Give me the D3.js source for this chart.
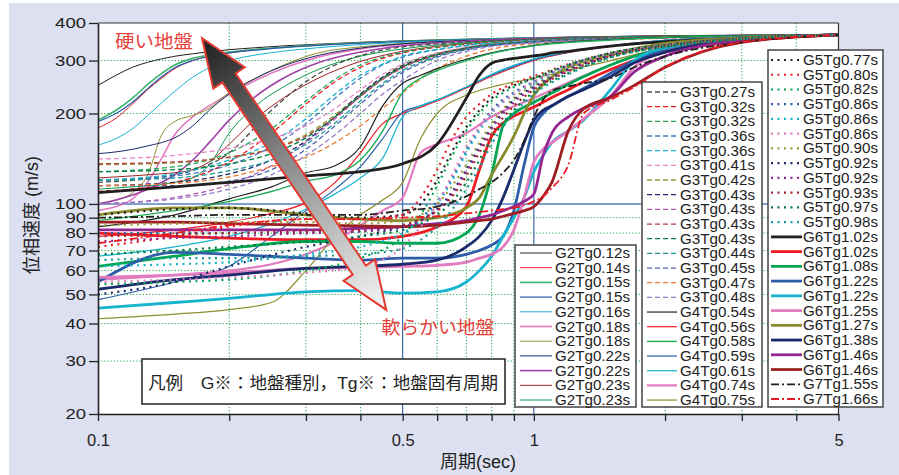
<!DOCTYPE html>
<html>
<head>
<meta charset="utf-8">
<script src="https://cdn.jsdelivr.net/npm/d3@7"></script>
<style>
  body { margin: 0; background: #fff; }
  svg { display: block; }
  text { font-family: "Liberation Sans", Arial, "Noto Sans CJK JP", sans-serif; }
</style>
</head>
<body>
<svg id="chart" width="899" height="475"></svg>
<script>
// ---- axis ticks ----
const xTicks = [0.1, 0.2, 0.3, 0.4, 0.5, 0.6, 0.7, 0.8, 0.9, 1, 2, 3, 4, 5];
const xTickLabels = [0.1, 0.5, 1, 5];
const yTicks = [20, 30, 40, 50, 60, 70, 80, 90, 100, 200, 300, 400];
const xGridDotted = [0.2, 0.3, 0.4, 0.6, 0.7, 0.8, 0.9, 2, 3, 4];
const xGridSolid = [0.5, 1];
const yGridDotted = [30, 40, 50, 60, 70, 80, 90, 200, 300];
const yGridSolid = [100];

// ---- G2 : phase velocity (m/s) at each period (s) ----
const g2Labels = ["G2Tg0.12s","G2Tg0.14s","G2Tg0.15s","G2Tg0.15s","G2Tg0.16s","G2Tg0.18s","G2Tg0.18s","G2Tg0.22s","G2Tg0.22s","G2Tg0.23s","G2Tg0.23s"];
const g2Periods = [0.1, 0.11, 0.12, 0.13, 0.14, 0.15, 0.165, 0.18, 0.2, 0.23, 0.27, 0.32, 0.4, 0.5, 0.7, 1, 2, 5];
const g2Values = [
  [248,268,285,296,304,310,316,321,326,331,336,340,345,349,353,357,362,365],
  [179,193,215,240,262,282,300,310,318,326,333,338,344,348,353,357,362,365],
  [190,205,225,250,272,290,305,313,320,327,333,338,344,348,353,357,362,365],
  [188,200,218,242,265,284,300,310,318,325,332,337,343,347,352,357,362,365],
  [157,165,178,197,217,237,264,284,300,313,323,331,339,345,351,356,362,365],
  [95,98,104,118,142,170,195,212,232,258,285,308,328,340,349,355,362,365],
  [100,103,109,125,170,188,197,208,235,262,292,318,333,342,350,355,362,365],
  [147,149,152,156,160,166,182,205,232,262,290,312,330,341,350,355,362,365],
  [100,103,107,112,118,125,140,160,190,228,265,295,320,336,348,355,362,365],
  [122,123,124,125,126,127,130,138,158,192,228,262,298,322,342,353,362,365],
  [112,113,114,115,116,118,122,135,172,212,248,280,310,328,344,353,362,365]
];

// ---- G3 ----
const g3Labels = ["G3Tg0.27s","G3Tg0.32s","G3Tg0.32s","G3Tg0.36s","G3Tg0.36s","G3Tg0.41s","G3Tg0.42s","G3Tg0.43s","G3Tg0.43s","G3Tg0.43s","G3Tg0.43s","G3Tg0.44s","G3Tg0.45s","G3Tg0.47s","G3Tg0.48s"];
const g3Periods = [0.1, 0.15, 0.2, 0.25, 0.3, 0.35, 0.4, 0.45, 0.5, 0.6, 0.7, 1, 2, 5];
const g3Values = [
  [118,125,148,205,255,290,312,325,333,341,346,353,359,365],
  [110,118,138,172,215,255,285,305,318,332,340,350,358,365],
  [128,133,148,178,220,260,290,308,320,333,340,350,358,365],
  [120,124,135,155,185,225,262,290,308,326,336,349,358,365],
  [120,126,140,160,192,232,268,292,310,327,337,349,358,365],
  [141,145,153,165,182,208,240,270,292,318,332,348,358,365],
  [135,137,143,153,170,198,232,265,290,316,331,347,358,365],
  [115,118,126,140,162,195,232,264,288,315,330,347,358,365],
  [100,105,116,134,160,192,228,260,285,313,329,346,358,365],
  [136,138,143,152,168,195,228,260,284,313,329,346,358,365],
  [128,130,136,147,166,195,230,262,286,314,330,347,358,365],
  [120,122,129,140,158,186,220,252,278,310,327,346,357,365],
  [115,115,119,130,152,182,215,248,274,308,326,345,357,365],
  [115,117,123,133,143,160,182,208,235,282,310,342,356,365],
  [100,104,112,125,145,170,200,232,258,300,322,344,357,365]
];

// ---- G4 ----
const g4Labels = ["G4Tg0.54s","G4Tg0.56s","G4Tg0.58s","G4Tg0.59s","G4Tg0.61s","G4Tg0.74s","G4Tg0.75s"];
const g4Periods = [0.1, 0.15, 0.2, 0.25, 0.3, 0.35, 0.4, 0.45, 0.5, 0.55, 0.6, 0.7, 0.8, 1, 1.5, 2, 5];
const g4Values = [
  [84,92,104,114,127,134,155,212,252,268,282,303,318,337,352,358,365],
  [78,82,87,93,101,118,148,185,200,210,220,243,266,300,335,350,365],
  [88,95,102,110,119,125,140,175,235,262,278,300,317,336,351,358,365],
  [48,55,62,78,95,112,133,165,202,212,222,245,268,302,335,350,365],
  [67,72,78,86,96,108,122,142,195,212,222,245,270,304,336,350,365],
  [56,58,60,63,68,75,85,95,105,148,158,172,195,225,290,330,365],
  [41.5,43,44.5,47,60,78,92,103,118,165,200,230,245,262,300,330,365]
];

// ---- G5 ----
const g5Labels = ["G5Tg0.77s","G5Tg0.80s","G5Tg0.82s","G5Tg0.86s","G5Tg0.86s","G5Tg0.86s","G5Tg0.90s","G5Tg0.92s","G5Tg0.92s","G5Tg0.93s","G5Tg0.97s","G5Tg0.98s"];
const g5Periods = [0.1, 0.15, 0.2, 0.3, 0.4, 0.5, 0.55, 0.6, 0.65, 0.7, 0.75, 0.8, 0.9, 1, 1.2, 1.5, 2, 3, 5];
const g5Values = [
  [92,96,97,93,90,92,100,120,150,180,205,225,248,262,290,318,338,355,365],
  [72,78,84,89,89,92,105,130,165,195,215,232,252,266,292,318,338,355,365],
  [54,55,56,60,66,78,92,115,145,175,200,220,245,262,290,318,338,355,365],
  [80,80,80,80,81,84,90,102,122,150,180,205,235,255,288,316,337,355,365],
  [62,63,64,68,72,80,88,100,120,148,175,200,232,252,286,315,337,355,365],
  [55,56,57,59,62,72,84,100,125,155,180,202,232,255,287,316,337,355,365],
  [85,86,87,87,86,88,92,100,115,135,160,185,225,248,282,313,336,355,365],
  [50,55,62,72,78,84,88,96,110,130,155,180,222,245,280,312,335,355,365],
  [75,77,78,80,81,84,88,95,108,128,152,178,218,243,278,311,335,355,365],
  [78,79,80,81,82,85,89,95,106,124,148,172,212,240,276,310,334,354,365],
  [68,70,72,75,78,82,86,92,102,118,140,165,205,236,272,308,333,354,365],
  [65,66,66,67,68,71,76,84,96,112,132,158,200,232,270,307,333,354,365]
];

// ---- G6 / G7 ----
const g6Labels = ["G6Tg1.02s","G6Tg1.02s","G6Tg1.08s","G6Tg1.22s","G6Tg1.22s","G6Tg1.25s","G6Tg1.27s","G6Tg1.38s","G6Tg1.46s","G6Tg1.46s"];
const g6Periods = [0.1, 0.15, 0.2, 0.3, 0.4, 0.5, 0.6, 0.7, 0.75, 0.8, 0.85, 0.9, 0.95, 1, 1.05, 1.1, 1.2, 1.3, 1.5, 1.7, 2, 3, 5];
const g6Values = [
  [109,114,118,124,128,136,158,225,268,294,301,305,308,311,314,318,322,327,335,341,347,357,365],
  [80,78,77,76,76,78,84,98,130,168,186,196,203,210,218,226,240,255,280,300,320,348,365],
  [62,67,71,75,75,74,74,80,92,125,182,200,210,218,226,234,250,265,290,310,328,352,365],
  [55,69,68,66,65,66,66,68,70,73,78,95,135,180,200,212,228,242,272,300,325,352,365],
  [45,47,48.5,51,51.5,50.5,51,55,60,67,78,90,105,128,145,160,175,190,240,300,330,352,365],
  [57,58,59,61,61.5,62,62.5,64,66,68,72,82,105,138,152,160,175,192,228,285,320,350,365],
  [92,97,97,92,89,88,90,97,105,125,145,168,200,230,250,265,285,298,315,328,342,357,365],
  [52,56,58,61,62,63,65,72,78,88,105,130,160,190,205,212,228,240,265,295,320,352,365],
  [82,82,82,82,83,84,86,88,90,92,95,98,102,108,145,172,195,208,228,275,310,350,365],
  [87,87,86,85,84.5,84,85,87,88,89,91,93,95,98,106,118,175,207,226,248,285,345,365]
];
const g7Labels = ["G7Tg1.55s","G7Tg1.66s"];
const g7Periods = g6Periods;
const g7Values = [
  [90,91,92,92,92,95,98,106,112,118,127,140,162,195,222,238,246,252,262,285,310,345,365],
  [74,80,85,89,89,90,91,93,94,95,96,97,99,102,106,113,135,200,222,245,285,345,365]
];

// ---- annotation anchors (period, velocity) ----
const arrowHard = [0.1733, 356];
const arrowSoft = [0.4585, 44.4];
const hardText = "硬い地盤";
const softText = "軟らかい地盤";
const noteText = "凡例　G※：地盤種別，Tg※：地盤固有周期";

// ================= drawing =================
const svg = d3.select("#chart");
const L = 98, R = 838.5, T = 23, B = 414;
const x = d3.scaleLog().domain([0.1, 5]).range([L, R]);
const y = d3.scaleLog().domain([20, 400]).range([B, T]);

svg.append("rect").attr("x", 9).attr("y", 3).attr("width", 890).attr("height", 472).attr("fill", "#dde0f0");
svg.append("rect").attr("x", L).attr("y", T).attr("width", R - L).attr("height", B - T).attr("fill", "#fff");

const grid = svg.append("g");
grid.selectAll(".vx").data(xGridDotted).join("line")
  .attr("x1", d => x(d)).attr("x2", d => x(d)).attr("y1", T).attr("y2", B)
  .attr("stroke", "#1aa24a").attr("stroke-width", 1).attr("stroke-dasharray", "1.2,2");
grid.selectAll(".hy").data(yGridDotted).join("line")
  .attr("y1", d => y(d)).attr("y2", d => y(d)).attr("x1", L).attr("x2", R)
  .attr("stroke", "#1aa24a").attr("stroke-width", 1).attr("stroke-dasharray", "1.2,2");
grid.selectAll(".vb").data(xGridSolid).join("line")
  .attr("x1", d => x(d)).attr("x2", d => x(d)).attr("y1", T).attr("y2", B)
  .attr("stroke", "#2c5aa0").attr("stroke-width", 1.1);
grid.selectAll(".hb").data(yGridSolid).join("line")
  .attr("y1", d => y(d)).attr("y2", d => y(d)).attr("x1", L).attr("x2", R)
  .attr("stroke", "#5580bb").attr("stroke-width", 1.6);

svg.append("clipPath").attr("id", "plotClip").append("rect")
  .attr("x", L).attr("y", T).attr("width", R - L).attr("height", B - T);

const pal = {
  black: "#231f20", red: "#ed1c24", green: "#00a651", blue: "#2e5eaa", cyan: "#17b3cf",
  pink: "#e27bc0", olive: "#8f8f30", navy: "#1b2a6b", purple: "#93278f", darkred: "#9e1f23",
  dgreen: "#007a3d", teal: "#1a9a9a", grey: "#4d4d4d", slate: "#5060b0", orange: "#f07a30", lav: "#9a78c8"
};

const groups = {
  g2: { labels: g2Labels, periods: g2Periods, values: g2Values,
        colors: [pal.black, pal.red, "#3cb371", pal.blue, pal.cyan, pal.pink, pal.olive, pal.navy, "#a040a8", pal.darkred, "#0e9a4a"],
        widths: [1, 1, 1.6, 1.2, 1, 1.6, 1, 1, 1.6, 1, 1], dash: null },
  g3: { labels: g3Labels, periods: g3Periods, values: g3Values,
        colors: [pal.grey, pal.red, "#21a35a", "#4676c0", pal.cyan, "#e58ac8", "#9a9a36", pal.navy, "#b056b0", "#b04040", pal.dgreen, pal.teal, pal.slate, pal.orange, pal.lav],
        widths: Array(15).fill(1.3), dash: "5,3" },
  g4: { labels: g4Labels, periods: g4Periods, values: g4Values,
        colors: [pal.black, pal.red, "#1fae55", pal.blue, pal.cyan, pal.pink, pal.olive],
        widths: [1.2, 1.2, 1.4, 1.2, 1.2, 2.2, 1.2], dash: null },
  g5: { labels: g5Labels, periods: g5Periods, values: g5Values,
        colors: [pal.black, pal.red, pal.green, pal.blue, pal.cyan, pal.pink, "#9a9a36", pal.navy, pal.purple, "#a3242a", pal.dgreen, pal.teal],
        widths: Array(12).fill(2.2), dash: "2,4.5" },
  g6: { labels: g6Labels, periods: g6Periods, values: g6Values,
        colors: [pal.black, pal.red, pal.green, pal.blue, pal.cyan, pal.pink, "#8a8a2e", pal.navy, pal.purple, pal.darkred],
        widths: Array(10).fill(2.8), dash: null },
  g7: { labels: g7Labels, periods: g7Periods, values: g7Values,
        colors: [pal.black, pal.red], widths: [1.8, 1.8], dash: "8,3,2,3" }
};

const line = d3.line().x(d => x(d[0])).y(d => y(d[1])).curve(d3.curveMonotoneX);
const curves = svg.append("g").attr("clip-path", "url(#plotClip)").attr("fill", "none");

["g2", "g3", "g4", "g6", "g5", "g7"].forEach(k => {
  const g = groups[k];
  g.values.forEach((vals, i) => {
    const pts = g.periods.map((p, j) => [p, vals[j]]);
    curves.append("path").attr("d", line(pts))
      .attr("stroke", g.colors[i]).attr("stroke-width", g.widths[i])
      .attr("stroke-dasharray", g.dash).attr("stroke-linejoin", "round");
  });
});

// frame
svg.append("line").attr("x1", L).attr("x2", R).attr("y1", T).attr("y2", T).attr("stroke", "#333").attr("stroke-width", 1.2);
svg.append("line").attr("x1", R).attr("x2", R).attr("y1", T).attr("y2", B).attr("stroke", "#333").attr("stroke-width", 1.2);

// axes
const yAxis = d3.axisLeft(y).tickValues(yTicks).tickFormat(d3.format("d")).tickSize(9).tickSizeOuter(0).tickPadding(3);
const ya = svg.append("g").attr("transform", `translate(${L},0)`).call(yAxis);
const xAxis = d3.axisBottom(x).tickValues(xTicks)
  .tickFormat(d => xTickLabels.includes(d) ? String(d) : "").tickSize(7).tickSizeOuter(0).tickPadding(13);
const xa = svg.append("g").attr("transform", `translate(0,${B})`).call(xAxis);
[ya, xa].forEach(a => {
  a.select(".domain").attr("stroke", "#222").attr("stroke-width", 1.6);
  a.selectAll(".tick line").attr("stroke", "#222").attr("stroke-width", 1.3);
  a.selectAll("text").attr("fill", "#222")
    .attr("font-family", "'Liberation Sans', Arial, sans-serif");
});
ya.selectAll("text").attr("font-size", 14.5)
  .attr("textLength", d => String(d).length * 10.3).attr("lengthAdjust", "spacingAndGlyphs");
xa.selectAll("text").attr("font-size", 16.5);

svg.append("text").attr("transform", "translate(32,215) rotate(-90)")
  .attr("text-anchor", "middle").attr("dominant-baseline", "central")
  .attr("font-size", 18).attr("fill", "#222").text("位相速度 (m/s)");
svg.append("text").attr("x", 478).attr("y", 468).attr("text-anchor", "middle")
  .attr("font-size", 18).attr("fill", "#222").text("周期(sec)");

// double-headed arrow between hard and soft ground
(function () {
  const t = [x(arrowHard[0]), y(arrowHard[1])];
  const b = [x(arrowSoft[0]), y(arrowSoft[1])];
  const dx = b[0] - t[0], dy = b[1] - t[1], len = Math.hypot(dx, dy);
  const u = [dx / len, dy / len], n = [-u[1], u[0]];
  const hl = 48, hw = 19, sw = 8;
  const P = (base, a, c) => [base[0] + u[0] * a + n[0] * c, base[1] + u[1] * a + n[1] * c];
  const pts = [t, P(t, hl, hw), P(t, hl, sw), P(b, -hl, sw), P(b, -hl, hw), b,
               P(b, -hl, -hw), P(b, -hl, -sw), P(t, hl, -sw), P(t, hl, -hw)];
  const defs = svg.append("defs");
  const gr = defs.append("linearGradient").attr("id", "arrowGrad").attr("gradientUnits", "userSpaceOnUse")
    .attr("x1", t[0]).attr("y1", t[1]).attr("x2", b[0]).attr("y2", b[1]);
  gr.append("stop").attr("offset", 0).attr("stop-color", "#1e1e1e");
  gr.append("stop").attr("offset", 0.45).attr("stop-color", "#8a8a8a");
  gr.append("stop").attr("offset", 1).attr("stop-color", "#f6f6f6");
  svg.append("polygon").attr("points", pts.map(p => p.join(",")).join(" "))
    .attr("fill", "url(#arrowGrad)").attr("stroke", "#e63a30").attr("stroke-width", 2).attr("stroke-linejoin", "miter");
})();

svg.append("text").attr("x", x(0.1094)).attr("y", y(330)).attr("font-size", 18)
  .attr("fill", "#e5403a").attr("textLength", 78).attr("lengthAdjust", "spacingAndGlyphs").text(hardText);
svg.append("text").attr("x", x(0.447)).attr("y", y(36.9)).attr("font-size", 18)
  .attr("fill", "#e5403a").attr("textLength", 113).attr("lengthAdjust", "spacingAndGlyphs").text(softText);

// note box
svg.append("rect").attr("x", 142).attr("y", 359).attr("width", 363).attr("height", 45)
  .attr("fill", "#fff").attr("stroke", "#222").attr("stroke-width", 1.5);
svg.append("text").attr("x", 148).attr("y", 389).attr("font-size", 17).attr("fill", "#222")
  .attr("textLength", 350).attr("lengthAdjust", "spacingAndGlyphs").text(noteText);

// legends
function legend(box, rows, y0, dy, sx0, sx1, tx) {
  const g = svg.append("g");
  g.append("rect").attr("x", box[0]).attr("y", box[1]).attr("width", box[2]).attr("height", box[3])
    .attr("fill", "#fff").attr("stroke", "#444").attr("stroke-width", 1.5);
  rows.forEach((r, i) => {
    const yy = y0 + i * dy;
    g.append("line").attr("x1", sx0).attr("x2", sx1).attr("y1", yy).attr("y2", yy)
      .attr("stroke", r.color).attr("stroke-width", r.width).attr("stroke-dasharray", r.dash);
    g.append("text").attr("x", tx).attr("y", yy + 5).attr("font-size", 14).attr("fill", "#222")
      .attr("textLength", 75).attr("lengthAdjust", "spacingAndGlyphs").text(r.label);
  });
}
const rowsOf = k => groups[k].labels.map((l, i) => ({ label: l, color: groups[k].colors[i], width: groups[k].widths[i], dash: groups[k].dash }));
legend([515, 245, 121, 162], rowsOf("g2"), 253, 14.7, 520, 552, 555);
legend([642, 82, 120, 325], rowsOf("g3").concat(rowsOf("g4")), 92, 14.67, 647, 677, 680);
legend([768, 50, 115, 357], rowsOf("g5").concat(rowsOf("g6"), rowsOf("g7")), 60, 14.74, 771, 802, 803);
</script>
</body>
</html>
